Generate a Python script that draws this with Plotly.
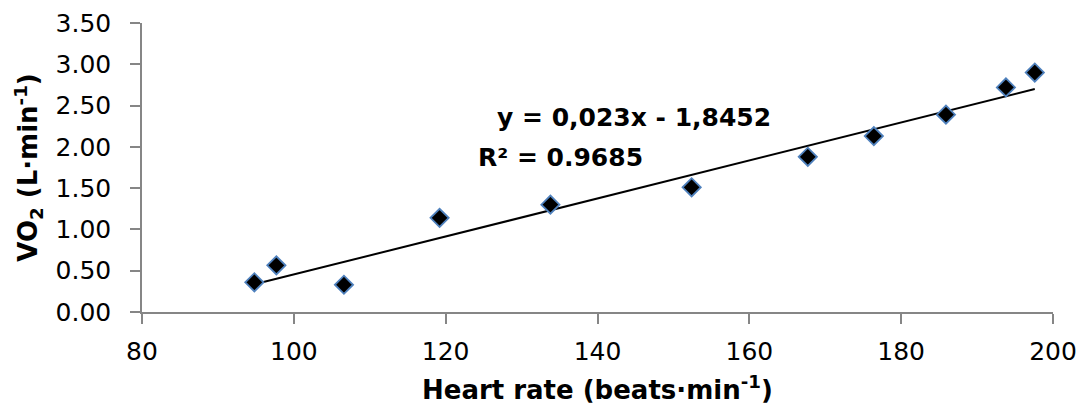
import plotly.graph_objects as go

heart_rate = [94.8, 97.7, 106.6, 119.2, 133.8, 152.4, 167.7, 176.4, 185.9, 193.8, 197.6]
vo2 = [0.36, 0.565, 0.33, 1.14, 1.30, 1.51, 1.88, 2.13, 2.39, 2.72, 2.90]
slope = 0.023
intercept = -1.8452
r_squared_label = "R² = 0.9685"
equation_label = "y = 0,023x - 1,8452"
x_title = "Heart rate (beats·min<sup>-1</sup>)"
y_title = "VO<sub>2</sub> (L·min<sup>-1</sup>)"
x_ticks = [80, 100, 120, 140, 160, 180, 200]
y_ticks = [0, 0.5, 1.0, 1.5, 2.0, 2.5, 3.0, 3.5]

FONT = "DejaVu Sans"

trend_x = [min(heart_rate), max(heart_rate)]
trend_y = [slope * v + intercept for v in trend_x]

fig = go.Figure()
fig.add_trace(go.Scatter(
    x=trend_x, y=trend_y, mode="lines",
    line=dict(color="black", width=2), showlegend=False, hoverinfo="skip"))
fig.add_trace(go.Scatter(
    x=heart_rate, y=vo2, mode="markers",
    marker=dict(symbol="diamond", size=14, color="black",
                line=dict(color="#4F81BD", width=1.8)),
    showlegend=False))

fig.add_annotation(x=126.5, y=2.357, text="<b>" + equation_label + "</b>",
                   showarrow=False, xanchor="left", yanchor="middle",
                   font=dict(family=FONT, size=25, color="black"))
fig.add_annotation(x=124.0, y=1.867, text="<b>" + r_squared_label + "</b>",
                   showarrow=False, xanchor="left", yanchor="middle",
                   font=dict(family=FONT, size=25, color="black"))
# x-axis title
fig.add_annotation(x=0.5, y=-0.262, xref="paper", yref="paper",
                   text="<b>" + x_title + "</b>",
                   showarrow=False, xanchor="center", yanchor="middle",
                   font=dict(family=FONT, size=26, color="black"))

fig.update_layout(
    width=1078, height=410,
    margin=dict(l=142, r=25, t=23, b=98),
    paper_bgcolor="white", plot_bgcolor="white",
    font=dict(family=FONT, size=25, color="black"),
)
fig.update_xaxes(
    range=[80, 200], tickvals=x_ticks, ticks="outside", ticklen=10,
    tickcolor="#868686", tickwidth=1.5,
    showline=True, linecolor="#868686", linewidth=1.5,
    showgrid=False, zeroline=False, automargin=False,
    tickfont=dict(family=FONT, size=25, color="black"),
    ticklabelstandoff=6,
)
fig.update_yaxes(
    range=[0, 3.5], tickvals=y_ticks, tickformat=".2f", ticks="outside", ticklen=10,
    tickcolor="#868686", tickwidth=1.5,
    showline=True, linecolor="#868686", linewidth=1.5,
    showgrid=False, zeroline=False, automargin=False,
    tickfont=dict(family=FONT, size=25, color="black"),
    ticklabelstandoff=14,
    title=dict(text="<b>" + y_title + "</b>",
               font=dict(family=FONT, size=26, color="black"), standoff=10),
)

fig.write_html("out.html", config={"displayModeBar": False},
               post_script="document.body.style.margin='0';")
